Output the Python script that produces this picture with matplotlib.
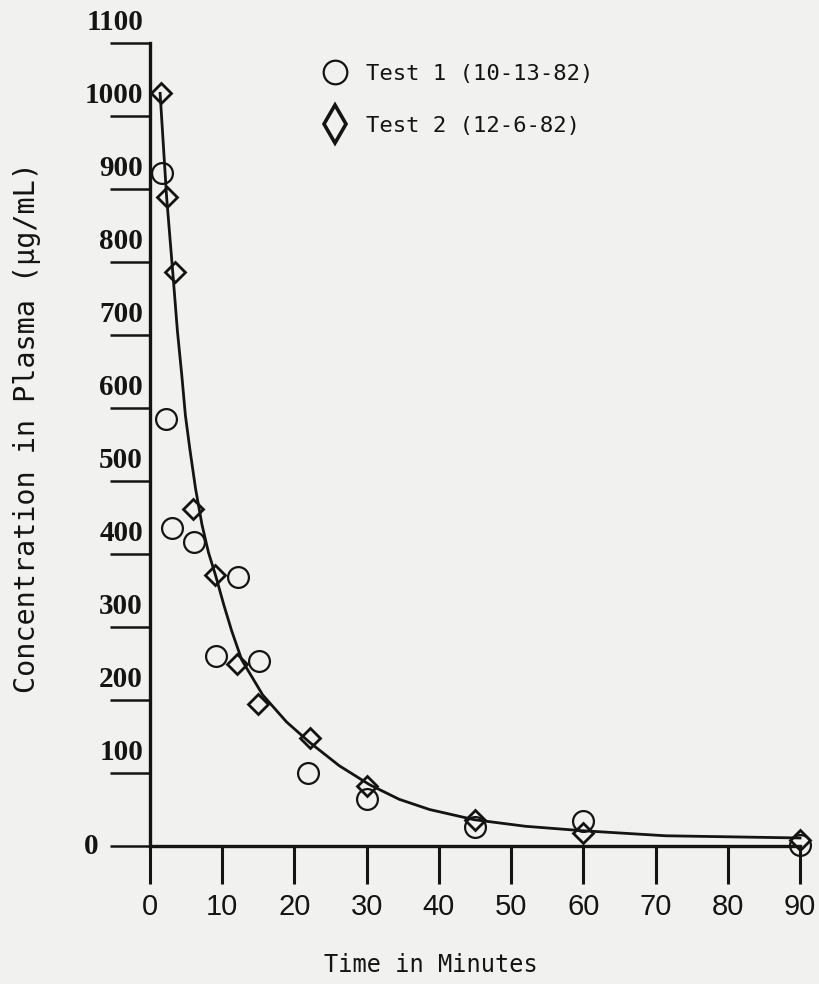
import matplotlib
matplotlib.use('Agg')
import matplotlib.pyplot as plt
from matplotlib.lines import Line2D

# Test 1 (10-13-82), circles
t_test1 = [1.6, 2.2, 3.1, 6.1, 9.1, 12.2, 15.1, 21.9, 30.1, 45, 60, 90]
c_test1 = [922, 585, 435, 416, 260, 368, 254, 100, 64, 26, 34, 1]

# Test 2 (12-6-82), diamonds
t_test2 = [1.5, 2.3, 3.4, 6.0, 9.0, 12.0, 15.0, 22.2, 30.1, 45, 60, 90]
c_test2 = [1031, 889, 786, 461, 371, 249, 194, 148, 82, 36, 18, 8]

# fitted curve
t_fit = [1.4, 2.3, 3.2, 3.8, 4.4, 4.9, 5.5, 6.3, 7.2, 8.1, 9.1, 10.2, 11.3, 12.7,
         15.6, 18.9, 22.1, 26.2, 30.4, 34.5, 38.7, 44.9, 52.0, 59.8, 71.4, 90]
c_fit = [1031, 889, 780, 705, 645, 590, 545, 490, 440, 402, 370, 331, 295, 255,
         207, 170, 142, 110, 84, 64, 50, 36, 27, 21, 14, 11]

x_ticks = [0, 10, 20, 30, 40, 50, 60, 70, 80, 90]
y_ticks = [0, 100, 200, 300, 400, 500, 600, 700, 800, 900, 1000, 1100]

ink = '#141414'
paper = '#f1f1f0'
mono = 'DejaVu Sans Mono'

W, H = 819, 984
fig = plt.figure(figsize=(W / 100, H / 100), dpi=100, facecolor=paper)
ax = fig.add_axes([150 / W, 1 - 846 / H, 650 / W, 803 / H])
ax.set_facecolor(paper)

ax.plot(t_fit, c_fit, color=ink, lw=2.0, zorder=3, clip_on=False)
ax.plot(t_test1, c_test1, ls='none', marker='o', ms=15, mfc='none', mec=ink,
        mew=1.6, zorder=4, clip_on=False)
ax.plot(t_test2, c_test2, ls='none', marker='D', ms=10, mfc='none', mec=ink,
        mew=2.0, zorder=5, clip_on=False)

ax.set_xlim(0, 90)
ax.set_ylim(0, 1100)
for s in ['top', 'right']:
    ax.spines[s].set_visible(False)
for s in ['left', 'bottom']:
    ax.spines[s].set_linewidth(2.4)
    ax.spines[s].set_color(ink)

ax.set_xticks(x_ticks)
ax.set_xticklabels([str(v) for v in x_ticks], family='Liberation Sans',
                   fontsize=21, color=ink)
ax.tick_params(axis='x', direction='out', length=27, width=2.2, color=ink, pad=7)

ax.set_yticks(y_ticks)
ax.set_yticklabels([])
ax.tick_params(axis='y', direction='out', length=29, width=1.8, color=ink)
for v in y_ticks:
    if v == 0:
        off, va = (-37, 0), 'center'
    else:
        off, va = (-5, 5), 'bottom'
    ax.annotate(str(v), xy=(0, v), xycoords=('axes fraction', 'data'),
                xytext=off, textcoords='offset points', ha='right', va=va,
                family='Liberation Serif', fontweight='bold', fontsize=21, color=ink,
                annotation_clip=False)

fig.text(431 / W, 1 - 972 / H, 'Time in Minutes', family=mono, fontsize=17,
         ha='center', va='baseline', color=ink)
fig.text(27 / W, 1 - 428 / H, 'Concentration in Plasma (\u03bcg/mL)', family=mono,
         fontsize=20.5, rotation=90, ha='center', va='center', color=ink)

handles = [
    Line2D([], [], ls='none', marker='o', ms=17, mfc='none', mec=ink, mew=1.6),
    Line2D([], [], ls='none', marker='d', ms=19, mfc='none', mec=ink, mew=2.6),
]
fig.legend(handles, ['Test 1 (10-13-82)', 'Test 2 (12-6-82)'],
           loc='upper left', bbox_to_anchor=(324 / W, 1 - 64 / H),
           bbox_transform=fig.transFigure, frameon=False, borderpad=0,
           borderaxespad=0, handlelength=1.0, handletextpad=0.9, labelspacing=1.42,
           prop={'family': mono, 'size': 16}, labelcolor=ink)

fig.savefig('out.png', dpi=100, facecolor=paper)
